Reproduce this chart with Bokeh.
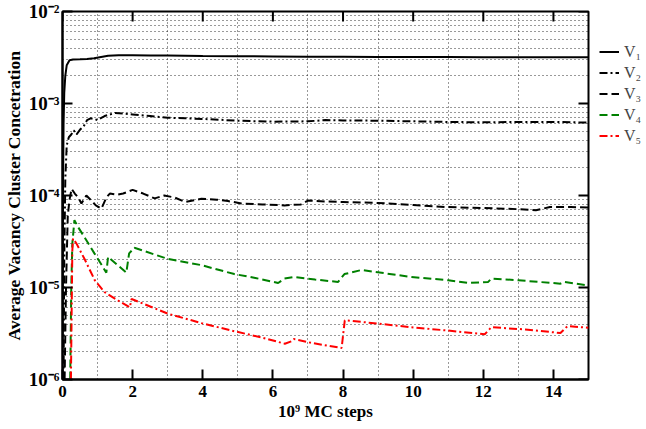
import math
from bokeh.plotting import figure
from bokeh.models import FixedTicker, Legend, LegendItem
from bokeh.embed import file_html
from bokeh.resources import INLINE

# ---- data (x in 10^9 MC steps, y = average vacancy cluster concentration) ----
x_v1 = [0, 0.01, 0.02, 0.03, 0.05, 0.08, 0.12, 0.2, 0.3, 0.5, 0.7, 0.9, 1.1, 1.3, 1.6, 2.0, 2.5, 3.0,
        4.0, 5.0, 6.0, 7.0, 8.0, 9.0, 10.0, 11.0, 12.0, 13.0, 14.0, 15.0]
y_v1 = [1e-6, 3e-5, 2e-4, 6e-4, 1.3e-3, 2.0e-3, 2.6e-3, 2.95e-3, 3.0e-3, 3.02e-3, 3.05e-3, 3.1e-3, 3.2e-3,
        3.3e-3, 3.35e-3, 3.35e-3, 3.33e-3, 3.32e-3, 3.28e-3, 3.26e-3, 3.25e-3, 3.23e-3, 3.22e-3, 3.21e-3,
        3.2e-3, 3.2e-3, 3.19e-3, 3.19e-3, 3.18e-3, 3.18e-3]

x_v2 = [0.03, 0.05, 0.08, 0.12, 0.18, 0.25, 0.32, 0.4, 0.5, 0.6, 0.7, 0.8, 0.9, 1.0, 1.2, 1.5, 2.0, 2.5,
        3.0, 3.5, 4.0, 5.0, 6.0, 7.0, 7.5, 8.0, 9.0, 10.0, 11.0, 12.0, 13.0, 14.0, 15.0]
y_v2 = [1e-6, 2e-5, 1.5e-4, 3.5e-4, 4.3e-4, 4.6e-4, 5.1e-4, 4.6e-4, 5.2e-4, 5.6e-4, 6.6e-4, 6.9e-4, 6.8e-4,
        6.6e-4, 7.3e-4, 7.9e-4, 7.6e-4, 7.3e-4, 7.0e-4, 6.9e-4, 6.8e-4, 6.5e-4, 6.35e-4, 6.4e-4, 6.6e-4,
        6.55e-4, 6.5e-4, 6.4e-4, 6.3e-4, 6.25e-4, 6.3e-4, 6.3e-4, 6.2e-4]

x_v3 = [0.06, 0.1, 0.15, 0.2, 0.26, 0.35, 0.45, 0.54, 0.68, 0.8, 0.95, 1.11, 1.25, 1.35, 1.55, 1.73, 2.0,
        2.3, 2.63, 2.9, 3.2, 3.5, 3.96, 4.4, 4.72, 5.1, 5.7, 6.33, 6.8, 7.0, 7.5, 8.0, 8.5, 9.0, 10.0,
        10.9, 12.0, 13.0, 13.5, 13.9, 14.5, 15.0]
y_v3 = [1e-6, 1e-5, 6e-5, 9e-5, 1.18e-4, 1.05e-4, 9.5e-5, 8.2e-5, 1.0e-4, 9e-5, 7.8e-5, 7.2e-5, 9.5e-5,
        1.05e-4, 1.02e-4, 1.05e-4, 1.15e-4, 1.05e-4, 9.3e-5, 1.0e-4, 9.5e-5, 8.5e-5, 9.2e-5, 9.0e-5,
        8.7e-5, 8.2e-5, 8.0e-5, 7.8e-5, 8.0e-5, 8.8e-5, 8.6e-5, 8.5e-5, 8.4e-5, 8.3e-5, 7.9e-5, 7.5e-5,
        7.3e-5, 7.1e-5, 6.9e-5, 7.5e-5, 7.5e-5, 7.4e-5]

x_v4 = [0.22, 0.25, 0.28, 0.34, 0.45, 0.63, 0.91, 1.1, 1.25, 1.3, 1.5, 1.82, 1.9, 2.05, 3.0, 3.96, 4.9,
        5.5, 6.15, 6.33, 6.6, 7.2, 7.86, 8.04, 8.53, 9.95, 11.0, 11.57, 12.14, 12.23, 13.0, 14.2, 14.3, 15.0]
y_v4 = [1e-6, 1e-5, 3e-5, 5.4e-5, 4.5e-5, 3.5e-5, 2.35e-5, 1.8e-5, 1.45e-5, 2.15e-5, 1.85e-5, 1.45e-5,
        2.35e-5, 2.7e-5, 2.05e-5, 1.75e-5, 1.4e-5, 1.27e-5, 1.12e-5, 1.25e-5, 1.3e-5, 1.22e-5, 1.15e-5,
        1.4e-5, 1.55e-5, 1.3e-5, 1.2e-5, 1.12e-5, 1.15e-5, 1.25e-5, 1.2e-5, 1.1e-5, 1.15e-5, 1.05e-5]

x_v5 = [0.24, 0.26, 0.28, 0.3, 0.4, 0.64, 0.92, 1.2, 1.59, 1.92, 1.97, 3.0, 3.96, 4.9, 5.7, 6.34, 6.53,
        6.6, 7.1, 7.96, 8.05, 8.1, 9.95, 11.0, 12.04, 12.23, 13.2, 14.2, 14.4, 15.0]
y_v5 = [1e-6, 5e-6, 2.5e-5, 3.4e-5, 3.0e-5, 2.0e-5, 1.2e-5, 8.9e-6, 7.2e-6, 6.1e-6, 7.5e-6, 5.2e-6,
        4.1e-6, 3.35e-6, 2.85e-6, 2.45e-6, 2.6e-6, 2.75e-6, 2.5e-6, 2.2e-6, 4.4e-6, 4.4e-6, 3.7e-6,
        3.4e-6, 3.1e-6, 3.7e-6, 3.5e-6, 3.2e-6, 3.8e-6, 3.65e-6]

x_ticks = [0, 2, 4, 6, 8, 10, 12, 14]
x_grid = [1, 3, 5, 7, 9, 11, 13]
y_ticks = [1e-6, 1e-5, 1e-4, 1e-3, 1e-2]
y_tick_labels = ["10\u207b\u2076", "10\u207b\u2075", "10\u207b\u2074", "10\u207b\u00b3", "10\u207b\u00b2"]
y_grid = [m * d for d in [1e-6, 1e-5, 1e-4, 1e-3] for m in range(2, 10)]
labels = ["V\u2081", "V\u2082", "V\u2083", "V\u2084", "V\u2085"]
X_MIN, X_MAX = 0, 15
Y_MIN, Y_MAX = 1e-6, 1e-2

SERIF = "Liberation Serif"

p = figure(frame_width=526, frame_height=368, y_axis_type="log",
           x_range=(X_MIN, X_MAX), y_range=(Y_MIN, Y_MAX),
           output_backend="svg", toolbar_location=None,
           min_border_left=61, min_border_right=59, min_border_top=11, min_border_bottom=50)

p.outline_line_color = "black"
p.outline_line_width = 2

# grids
p.xgrid.ticker = FixedTicker(ticks=x_grid)
p.ygrid.ticker = FixedTicker(ticks=y_grid)
for g in (p.xgrid, p.ygrid):
    g.grid_line_color = "black"
    g.grid_line_dash = "1 3"
    g.grid_line_width = 1
    g.grid_line_alpha = 0.8

# axes
p.xaxis.ticker = FixedTicker(ticks=x_ticks)
p.yaxis.ticker = FixedTicker(ticks=y_ticks)
p.yaxis.major_label_overrides = {v: s for v, s in zip(y_ticks, y_tick_labels)}
p.xaxis.axis_label = "10\u2079 MC steps"
p.yaxis.axis_label = "Average Vacancy Cluster Concetration"
for ax in (p.xaxis[0], p.yaxis[0]):
    ax.axis_line_width = 2
    ax.major_tick_in = 10
    ax.major_tick_out = 0
    ax.major_tick_line_width = 2
    ax.minor_tick_line_color = None
    ax.major_label_text_font = SERIF
    ax.major_label_text_font_style = "bold"
    ax.major_label_text_color = "black"
    ax.axis_label_text_font = SERIF
    ax.axis_label_text_font_style = "bold"
    ax.axis_label_text_color = "black"
p.xaxis.major_label_text_font_size = "17px"
p.yaxis.major_label_text_font_size = "19px"
p.xaxis.axis_label_text_font_size = "17px"
p.yaxis.axis_label_text_font_size = "17.5px"
p.xaxis.major_label_standoff = 6
p.xaxis.axis_label_standoff = 2
p.yaxis.major_label_standoff = 3
p.yaxis.axis_label_standoff = 2

# mirrored inward ticks on the top and right edges
p.ray(x=x_ticks, y=[Y_MAX] * len(x_ticks), length=10, length_units="screen",
      angle=-math.pi / 2, line_color="black", line_width=2)
p.ray(x=[X_MAX] * len(y_ticks), y=y_ticks, length=10, length_units="screen",
      angle=math.pi, line_color="black", line_width=2)

r1 = p.line(x_v1, y_v1, line_color="black", line_width=2)
r2 = p.line(x_v2, y_v2, line_color="black", line_width=2, line_dash="8 3 2 3")
r3 = p.line(x_v3, y_v3, line_color="black", line_width=2, line_dash="8 4")
r4 = p.line(x_v4, y_v4, line_color="green", line_width=2, line_dash="8 4")
r5 = p.line(x_v5, y_v5, line_color="red", line_width=2, line_dash="8 3 2 3")

legend = Legend(items=[LegendItem(label=l, renderers=[r]) for l, r in zip(labels, [r1, r2, r3, r4, r5])],
                location=(11, 233), glyph_width=20, glyph_height=21, label_height=21, spacing=0,
                padding=0, margin=0, border_line_color=None, background_fill_alpha=0,
                label_standoff=5, label_text_font=SERIF, label_text_font_size="16px")
p.add_layout(legend, "right")

open("out.html", "w").write(file_html(p, INLINE))
